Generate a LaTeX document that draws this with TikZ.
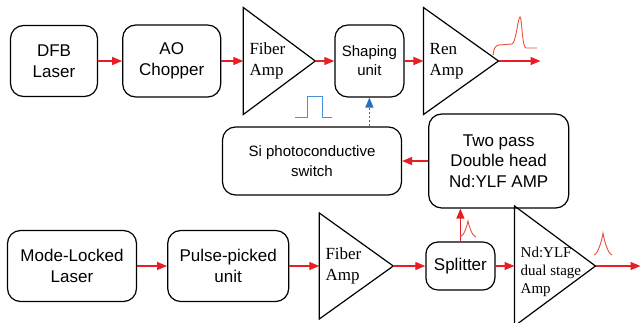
\documentclass[tikz,border=0pt]{standalone}
\usepackage{fontspec}
\setmainfont{Liberation Sans}
\newfontfamily\ampfont{Liberation Serif}
\usetikzlibrary{arrows.meta,positioning,shapes.geometric}

\definecolor{beamred}{RGB}{232,30,36}
\definecolor{pulsered}{RGB}{236,80,62}
\definecolor{trigblue}{RGB}{40,112,190}
\definecolor{pulseblue}{RGB}{70,145,210}

\tikzset{
  unit/.style={draw, line width=1.2pt, rounded corners=13pt, align=center, inner sep=0pt,
               font=\fontsize{17}{20.5}\selectfont},
  % triangle: height = length along the beam, width = base
  amp/.style={draw, line width=1.2pt, isosceles triangle, isosceles triangle stretches,
              inner sep=0pt, outer sep=0pt},
  amplabel/.style={align=left, inner sep=0pt, font=\ampfont\fontsize{17}{21}\selectfont},
  beam/.style={beamred, line width=1.3pt, -{Triangle[length=10pt,width=8pt]}},
  trigger/.style={trigblue, line width=1.4pt, dash pattern=on 2pt off 2pt,
                  -{Triangle[length=10pt,width=8pt]}},
  pulse/.style={pulsered, line width=0.9pt},
}

\begin{document}
\begin{tikzpicture}[x=1pt,y=-1pt]
\useasboundingbox (0,0) rectangle (640,322);

% seed line
\node (dfb) [unit, minimum width=87pt, minimum height=71pt] at (54,61) {DFB\\Laser};
\node (aoc) [unit, minimum width=98pt, minimum height=72pt, right=24pt of dfb] {AO\\Chopper};
\node (famp1) [amp, minimum height=72pt, minimum width=107pt, right=22pt of aoc] {};
\node (famp1txt) [amplabel, right=6pt of famp1.west] {Fiber\\Amp};
\node (shaping) [unit, font=\fontsize{15}{19}\selectfont, minimum width=69pt, minimum height=72pt,
                 right=19pt of famp1.apex] {Shaping\\unit};
\node (renamp) [amp, minimum height=75pt, minimum width=107pt, right=19pt of shaping] {};
\node (renamptxt) [amplabel, right=6pt of renamp.west] {Ren\\Amp};
\coordinate[right=42pt of renamp.apex] (out1);

% trigger line
\node (siswitch) [unit, font=\fontsize{15}{20}\selectfont, minimum width=179pt, minimum height=68pt]
      at (312,161) {Si photoconductive\\switch};
\node (twopass) [unit, minimum width=140pt, minimum height=94pt, right=26pt of siswitch]
      {Two pass\\Double head\\Nd:YLF AMP};

% mode-locked line
\node (mll) [unit, minimum width=129pt, minimum height=71pt] at (72,266) {Mode-Locked\\Laser};
\node (ppu) [unit, minimum width=121pt, minimum height=71pt, right=30pt of mll] {Pulse-picked\\unit};
\node (famp2) [amp, minimum height=74pt, minimum width=106pt, right=30pt of ppu] {};
\node (famp2txt) [amplabel, right=6pt of famp2.west] {Fiber\\Amp};
\node (split) [unit, rounded corners=12pt, minimum width=69pt, minimum height=48pt,
               right=32pt of famp2.apex] {Splitter};
\node (ndamp) [amp, minimum height=81pt, minimum width=120pt, right=19pt of split] {};
\node (ndamptxt) [amplabel, font=\ampfont\fontsize{15}{18}\selectfont, right=6pt of ndamp.west,
                  yshift=-6pt] {Nd:YLF\\dual stage\\Amp};
\coordinate[right=45pt of ndamp.apex] (out2);

\draw[beam] (dfb) -- (aoc);
\draw[beam] (aoc) -- (famp1);
\draw[beam] (famp1.apex) -- (shaping);
\draw[beam] (shaping) -- (renamp);
\draw[beam] (renamp.apex) -- (out1);
\draw[beam] (twopass) -- (siswitch);
\draw[beam] (mll) -- (ppu);
\draw[beam] (ppu) -- (famp2);
\draw[beam] (famp2.apex) -- (split);
\draw[beam] (split) -- (ndamp);
\draw[beam] (ndamp.apex) -- (out2);
\draw[beam] (split.north) -- (split.north |- twopass.south);
\draw[trigger] (siswitch.north -| shaping) -- (shaping.south);

% pulse shapes
\draw[pulse] (493,55) .. controls (494,48) and (495,46) .. (499,45) -- (512,44)
  .. controls (516,43) and (518,17) .. (520,17) .. controls (522,17) and (522,48) .. (526,48) -- (537,48);
\draw[pulse] (460,237) .. controls (464,236) and (467,226) .. (468,221)
  .. controls (469,226) and (472,236) .. (476,237);
\draw[pulse] (594,255) .. controls (598,254) and (602,240) .. (603,233)
  .. controls (604,240) and (608,254) .. (612,255);
\draw[pulseblue, line width=1pt] (295,117) -| (307,96) -| (322,117) -- (332,117);
\end{tikzpicture}
\end{document}
